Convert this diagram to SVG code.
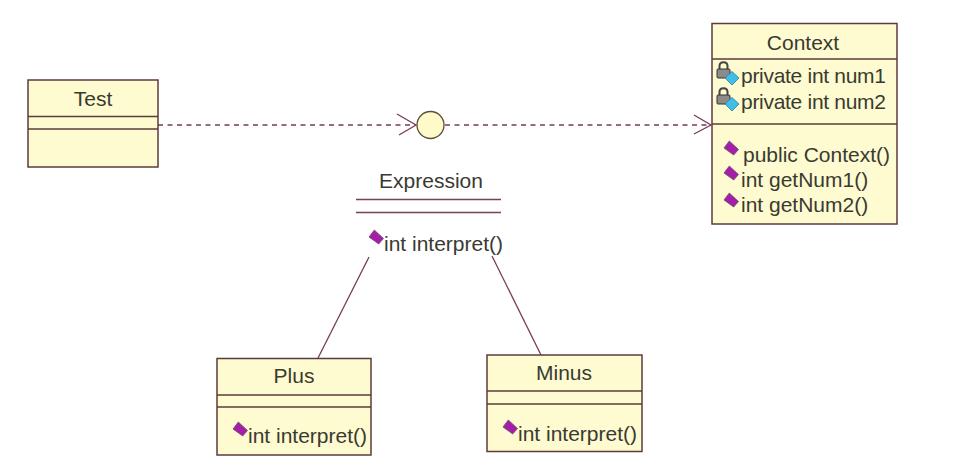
<svg xmlns="http://www.w3.org/2000/svg" width="962" height="467" viewBox="0 0 962 467">
<style>
.box{fill:#fefbd0;stroke:#5e3b3b;stroke-width:1.5}
.div{stroke:#5e3b3b;stroke-width:1.3;fill:none}
.exp{stroke:#7a3f5c;stroke-width:1.6;fill:none}
text{font-family:"Liberation Sans",Arial,sans-serif;font-size:21px;fill:#3a3a32}
.c{text-anchor:middle}
.conn{stroke:#7a3a5a;stroke-width:1.3;fill:none}
.dash{stroke-dasharray:5 4.5}
</style>
<defs>
<g id="op"><path d="M-7 0 L-1.700 -7 L7.500 1.500 L2.700 7 Z" fill="#a41fa8" stroke="#6f4a70" stroke-width="0.8"/></g>
<g id="priv">
<path d="M-5.500 -2 V-5 C-5.500 -10 2.500 -10 2.500 -5 V-2" fill="none" stroke="#444" stroke-width="2"/>
<rect x="-8" y="-2" width="13" height="9" rx="1" fill="#8b8b8b" stroke="#333" stroke-width="1"/>
<path d="M0 7 L7 0.500 L14 7 L7 14 Z" fill="#3fbfe8" stroke="#2b7d9e" stroke-width="0.8"/>
</g>
</defs>
<rect width="962" height="467" fill="#fff"/>
<g id="connectors">
<path class="conn dash" d="M158 125H416"/>
<path class="conn" d="M397 114L416 125L399 135"/>
<path class="conn dash" d="M445 125H711"/>
<path class="conn" d="M694 115L711 125L694 134"/>
<path class="conn" d="M369 257L318 358"/>
<path class="conn" d="M492 256L541 355"/>
</g>
<g id="test">
<rect class="box" x="28" y="80" width="130" height="87"/>
<path class="div" d="M28 116.500H158M28 129H158"/>
<text class="c" x="93" y="106">Test</text>
</g>
<g id="interface">
<circle cx="430.500" cy="125" r="13.500" fill="#fefbc8" stroke="#5e4b3b" stroke-width="1.300"/>
</g>
<g id="expression">
<text class="c" x="431" y="188">Expression</text>
<path class="exp" d="M356 199.500H501M356 212.500H501"/>
<use href="#op" x="376" y="237"/>
<text x="384" y="251">int interpret()</text>
</g>
<g id="context">
<rect class="box" x="712" y="23.500" width="185" height="200.500"/>
<path class="div" d="M712 59H897M712 124H897"/>
<text class="c" x="803" y="50">Context</text>
<use href="#priv" x="725" y="71"/>
<text x="741" y="83" textLength="145" lengthAdjust="spacing">private int num1</text>
<use href="#priv" x="725" y="97"/>
<text x="741" y="109" textLength="145" lengthAdjust="spacing">private int num2</text>
<use href="#op" x="731" y="148"/>
<text x="743" y="162">public Context()</text>
<use href="#op" x="731" y="173"/>
<text x="741" y="187">int getNum1()</text>
<use href="#op" x="731" y="200"/>
<text x="741" y="212">int getNum2()</text>
</g>
<g id="plus">
<rect class="box" x="217" y="358.500" width="154" height="96.500"/>
<path class="div" d="M217 395H371M217 407H371"/>
<text class="c" x="294" y="383">Plus</text>
<use href="#op" x="240" y="429"/>
<text x="248" y="443">int interpret()</text>
</g>
<g id="minus">
<rect class="box" x="487" y="355" width="155" height="96.500"/>
<path class="div" d="M487 391H642M487 404H642"/>
<text class="c" x="564" y="380">Minus</text>
<use href="#op" x="510" y="427"/>
<text x="518" y="441">int interpret()</text>
</g>
</svg>
